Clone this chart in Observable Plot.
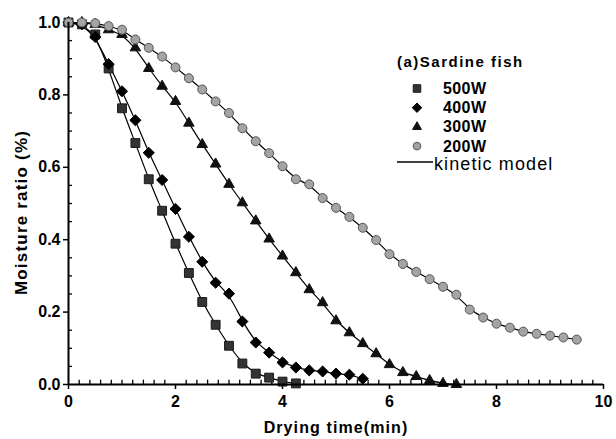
<!DOCTYPE html>
<html><head><meta charset="utf-8">
<script src="https://cdn.jsdelivr.net/npm/d3@7"></script>
<script src="https://cdn.jsdelivr.net/npm/@observablehq/plot@0.6"></script>
<style>
body{margin:0;background:#fff;}
#wrap{position:relative;width:616px;height:439px;font-family:"Liberation Sans",Arial,sans-serif;}
#legend{position:absolute;left:0;top:0;}
</style></head><body><div id="wrap"></div>
<script>
const seriesNames = ["500W", "400W", "300W", "200W"];
const legendTitle = "(a)Sardine fish";
const modelLabel = "kinetic model";
const xTitle = "Drying time(min)";
const yTitle = "Moisture ratio (%)";

const t500 = [0,0.25,0.5,0.75,1,1.25,1.5,1.75,2,2.25,2.5,2.75,3,3.25,3.5,3.75,4,4.25];
const mr500 = [1.0,0.995,0.967,0.873,0.763,0.667,0.567,0.48,0.389,0.308,0.228,0.165,0.107,0.058,0.03,0.019,0.008,0.003];

const t400 = [0,0.25,0.5,0.75,1,1.25,1.5,1.75,2,2.25,2.5,2.75,3,3.25,3.5,3.75,4,4.25,4.5,4.75,5,5.25,5.5];
const mr400 = [1.0,0.995,0.96,0.885,0.81,0.73,0.64,0.565,0.485,0.408,0.339,0.281,0.251,0.174,0.116,0.088,0.061,0.047,0.039,0.036,0.03,0.027,0.016];

const t300 = [0,0.25,0.5,0.75,1,1.25,1.5,1.75,2,2.25,2.5,2.75,3,3.25,3.5,3.75,4,4.25,4.5,4.75,5,5.25,5.5,5.75,6,6.25,6.5,6.75,7,7.25];
const mr300 = [1.0,1.0,0.995,0.98,0.967,0.93,0.873,0.824,0.782,0.722,0.663,0.609,0.553,0.502,0.452,0.402,0.355,0.309,0.262,0.226,0.176,0.143,0.113,0.085,0.055,0.033,0.022,0.011,0.003,0.0];

const t200 = [0,0.25,0.5,0.75,1,1.25,1.5,1.75,2,2.25,2.5,2.75,3,3.25,3.5,3.75,4,4.25,4.5,4.75,5,5.25,5.5,5.75,6,6.25,6.5,6.75,7,7.25,7.5,7.75,8,8.25,8.5,8.75,9,9.25,9.5];
const mr200 = [1.0,1.0,0.998,0.99,0.98,0.953,0.93,0.906,0.876,0.846,0.815,0.782,0.75,0.708,0.672,0.639,0.603,0.567,0.553,0.515,0.488,0.463,0.433,0.399,0.36,0.333,0.311,0.291,0.27,0.248,0.207,0.185,0.168,0.157,0.146,0.14,0.135,0.13,0.124];

const xTicks = [0, 2, 4, 6, 8, 10];
const yTicks = [0, 0.2, 0.4, 0.6, 0.8, 1.0];
const xMinor = d3.range(0.2, 10, 0.2).filter(v => Math.abs(v/2 - Math.round(v/2)) > 1e-6);
const yMinor = d3.range(0.05, 1, 0.05).filter(v => Math.abs(v/0.2 - Math.round(v/0.2)) > 1e-6);

const times = [t500, t400, t300, t200];
const values = [mr500, mr400, mr300, mr200];
const data = [];
seriesNames.forEach((s, i) => times[i].forEach((t, j) => data.push({series: s, t, mr: values[i][j]})));

const styles = {
  "500W": {symbol: "square", r: 5, fill: "#333", stroke: "#1a1a1a"},
  "400W": {symbol: "diamond2", r: 5, fill: "#000", stroke: "#000"},
  "300W": {symbol: "triangle", r: 3.9, fill: "#111", stroke: "#111"},
  "200W": {symbol: "circle", r: 4.5, fill: "#a4a4a4", stroke: "#555"}
};

const font = '"Liberation Sans", Arial, sans-serif';

const dotMarks = seriesNames.map(s => Plot.dot(data.filter(d => d.series === s), {
  x: "t", y: "mr", symbol: styles[s].symbol, r: styles[s].r,
  fill: styles[s].fill, stroke: styles[s].stroke, strokeWidth: 1
}));

const chart = Plot.plot({
  width: 616, height: 439,
  marginLeft: 68, marginRight: 13, marginTop: 22, marginBottom: 55,
  style: {fontFamily: font, fontSize: "16px", fontWeight: "bold", background: "#fff", color: "#000"},
  x: {domain: [0, 10], label: null},
  y: {domain: [0, 1], label: null},
  marks: [
    Plot.axisX({ticks: xTicks, tickSize: 5, tickPadding: 6, strokeWidth: 1.5, label: null, tickFormat: d => d}),
    Plot.axisY({ticks: yTicks, tickSize: 5, tickPadding: 3, strokeWidth: 1.5, label: null, tickFormat: d3.format(".1f")}),
    Plot.ruleX(xMinor, {y1: 0, y2: 0.012, strokeWidth: 1.3}),
    Plot.ruleY(yMinor, {x1: 0, x2: 0.075, strokeWidth: 1.3}),
    Plot.line(data, {x: "t", y: "mr", z: "series", curve: "basis", stroke: "#000", strokeWidth: 1.2}),
    ...dotMarks,
    Plot.ruleY([0], {strokeWidth: 2}),
    Plot.ruleX([0], {strokeWidth: 2}),
    Plot.text([xTitle], {text: d => d, frameAnchor: "bottom", dy: 48, textAnchor: "middle", lineAnchor: "bottom", fontSize: 16, fontWeight: "bold"}),
    Plot.text([yTitle], {text: d => d, frameAnchor: "left", dx: -42, dy: 9, rotate: -90, textAnchor: "middle", lineAnchor: "bottom", fontSize: 17, fontWeight: "bold"})
  ]
});
const wrap = document.getElementById("wrap");
wrap.appendChild(chart);
d3.select(chart).selectAll("text").filter(function(){ return this.textContent === xTitle; }).style("letter-spacing", "1.1px");
d3.select(chart).selectAll("text").filter(function(){ return this.textContent === yTitle; }).style("letter-spacing", "1.2px");

// Legend overlay
const lg = d3.select(wrap).append("svg").attr("id", "legend").attr("width", 616).attr("height", 439)
  .style("font-family", font);
lg.append("text").attr("x", 397).attr("y", 67).attr("font-size", 15).attr("font-weight", "bold")
  .style("letter-spacing", "1.5px").text(legendTitle);
const symMap = {square: d3.symbolSquare, diamond2: d3.symbolDiamond2, triangle: d3.symbolTriangle, circle: d3.symbolCircle};
seriesNames.forEach((s, i) => {
  const y = 88.5 + i * 19.2;
  const st = styles[s];
  const rr = st.r * 0.85;
  lg.append("path").attr("transform", `translate(417,${y})`)
    .attr("d", d3.symbol(symMap[st.symbol], Math.PI * rr * rr)())
    .attr("fill", st.fill).attr("stroke", st.stroke);
  lg.append("text").attr("x", 443).attr("y", y + 5.5).attr("font-size", 16).attr("font-weight", "bold")
    .style("letter-spacing", "0.4px").text(s);
});
lg.append("line").attr("x1", 397).attr("x2", 433).attr("y1", 162).attr("y2", 162).attr("stroke", "#000").attr("stroke-width", 1.3);
lg.append("text").attr("x", 434).attr("y", 170).attr("font-size", 18).style("letter-spacing", "1.1px").text(modelLabel);
</script></body></html>
